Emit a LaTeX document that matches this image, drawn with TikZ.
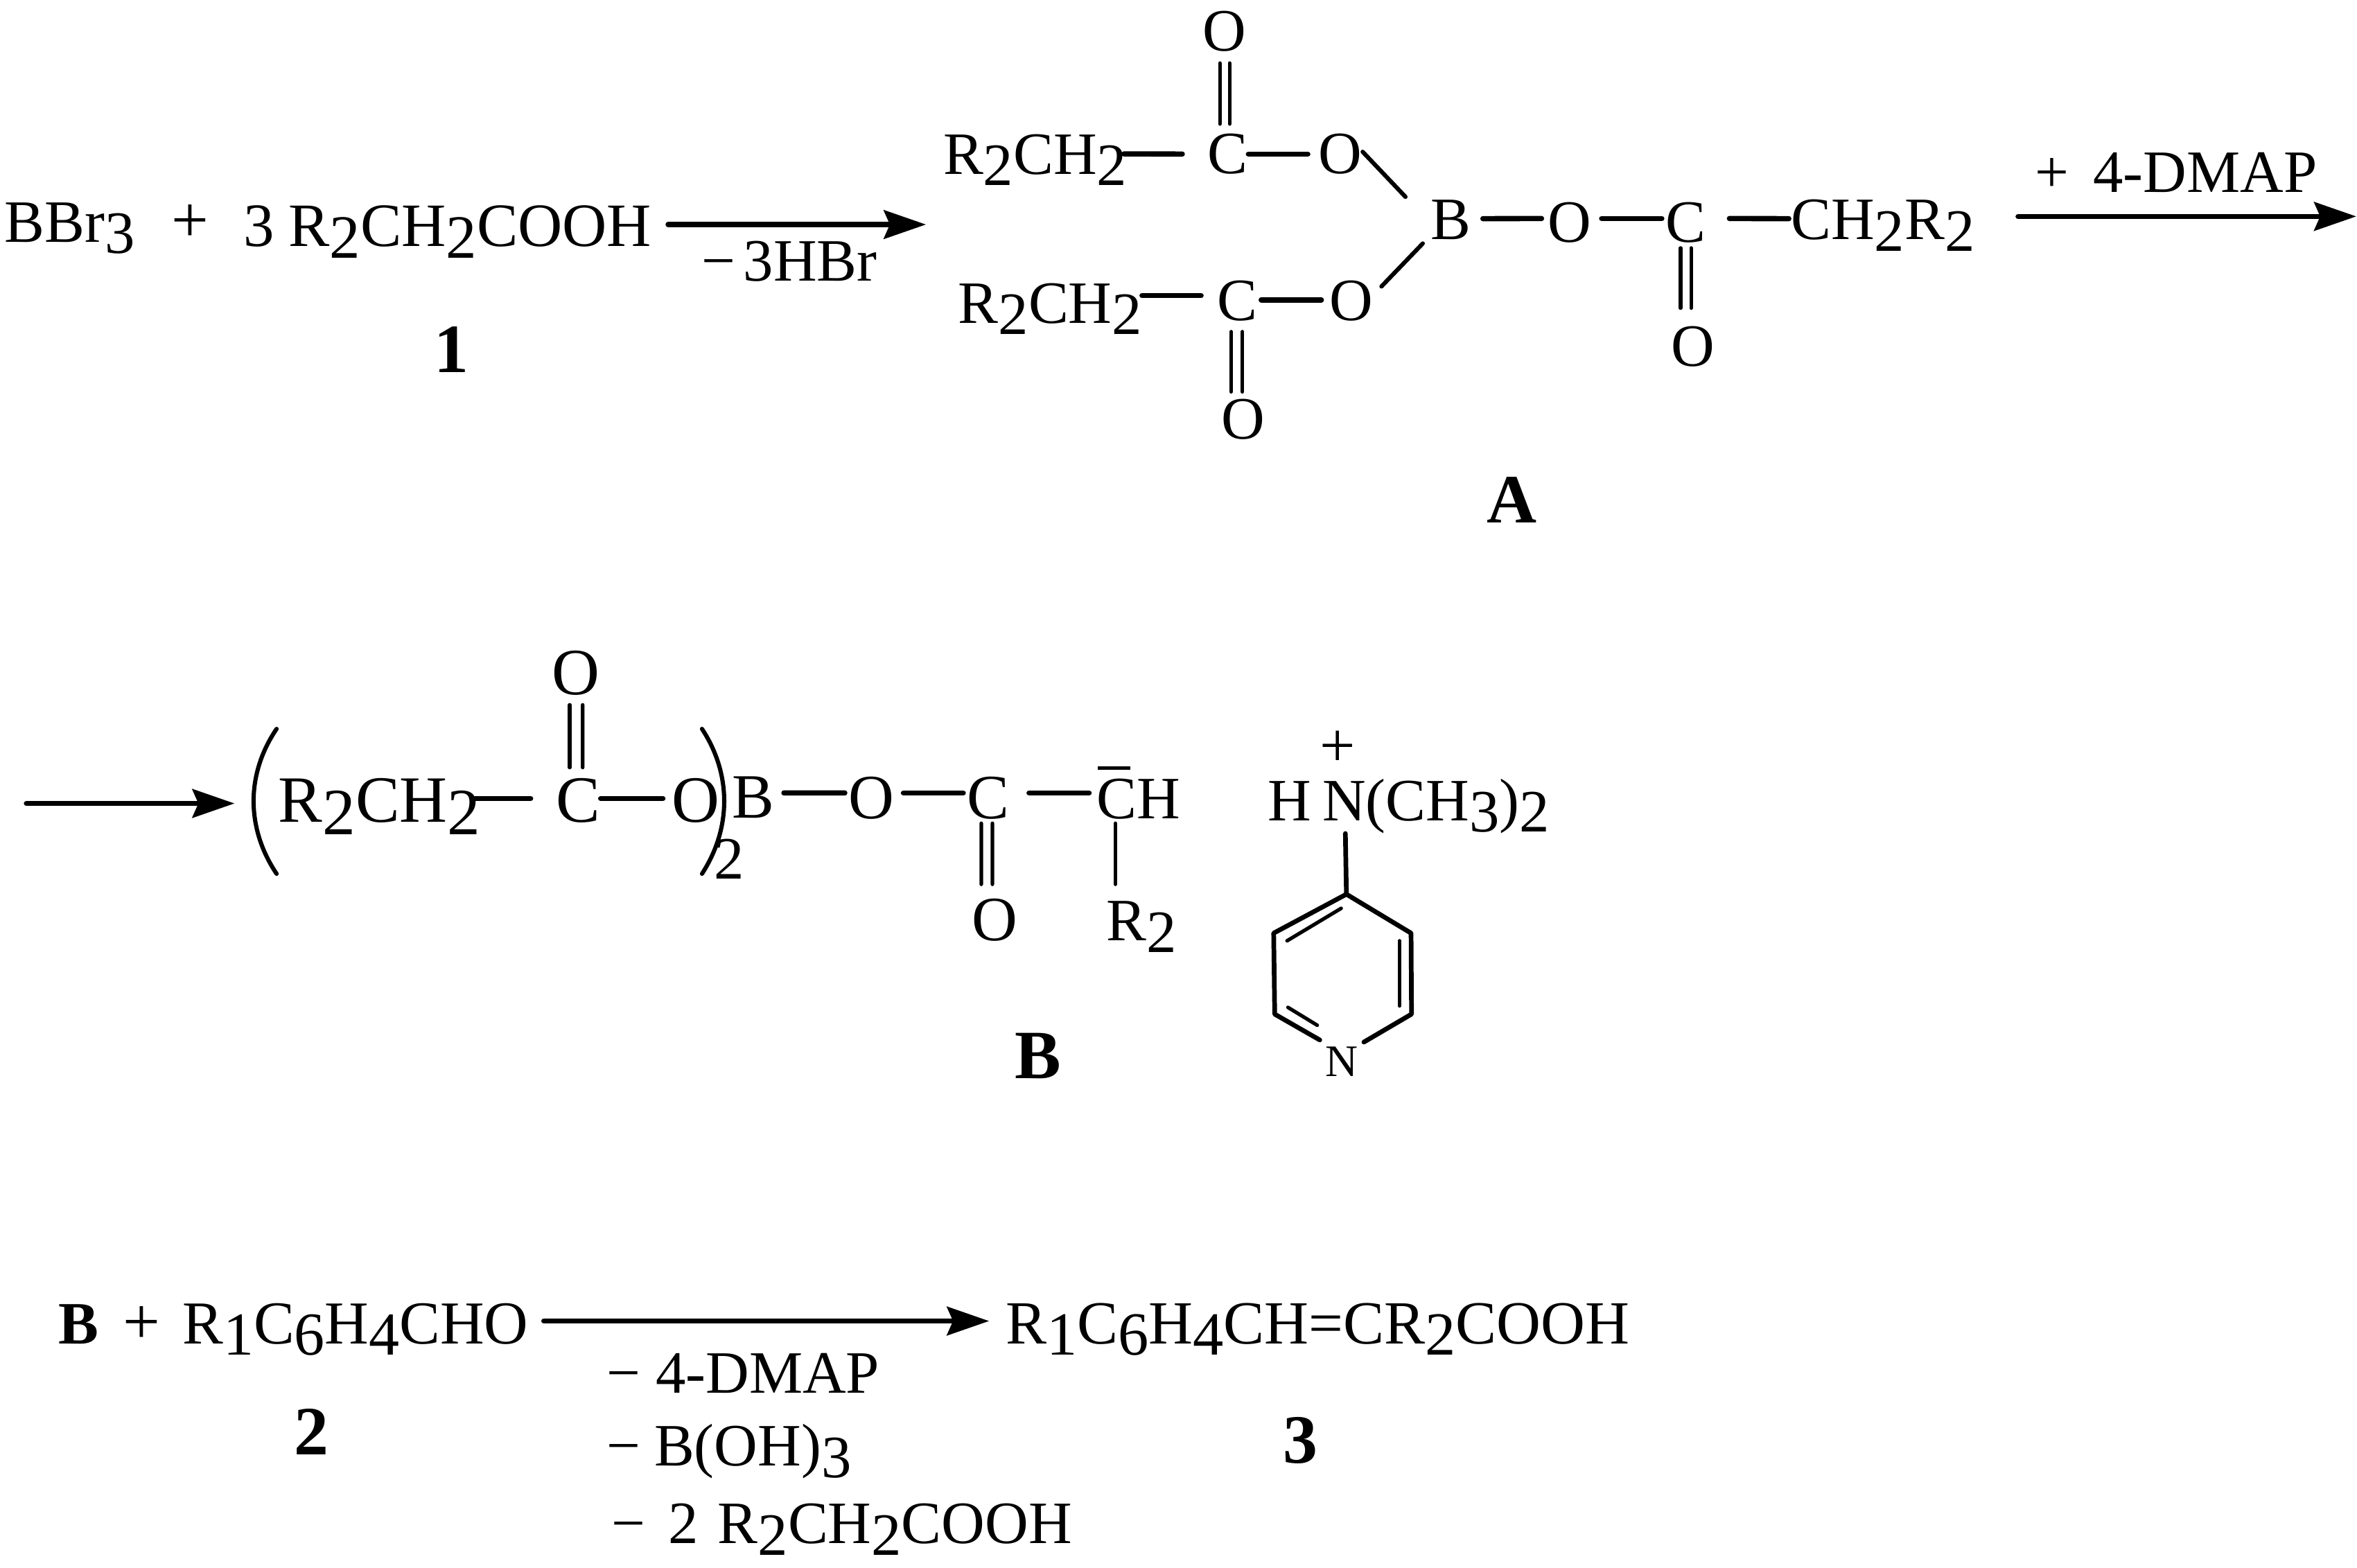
\documentclass[tikz,border=0pt]{standalone}
\usepackage{fontspec}
\setmainfont{Liberation Serif}
\usetikzlibrary{arrows.meta}
\newcommand{\sbb}[1]{\raisebox{-0.19em}{#1}}
\newcommand{\lk}[3]{([shift={(#2,#3)}]#1)}
\tikzset{
  fs/.style={font=\fontsize{#1}{#1}\selectfont},
  fsb/.style={font=\fontsize{#1}{#1}\selectfont\bfseries},
  atom/.style={anchor=base,inner sep=0pt,outer sep=0pt,fs=40},
  txt/.style={anchor=base west,inner sep=0pt,outer sep=0pt,fs=40},
  lbl/.style={anchor=base,inner sep=0pt,outer sep=0pt,fsb=46},
  bond/.style={line width=3.5pt,line cap=round},
  thinb/.style={line width=2.4pt,line cap=round},
  slant/.style={line width=2.8pt,line cap=round},
  ringb/.style={line width=3.1pt,line cap=round,line join=round},
  rxn/.style={line width=3.5pt,line cap=round,-{Stealth[length=28pt,width=19pt,inset=4pt]}}
}
\begin{document}
\begin{tikzpicture}[x=1pt,y=-1pt]
\useasboundingbox (0,0) rectangle (1568,1043.3);
% ---------- first row: reactants
\node[txt] (bbr) at (3,161) {BBr\sbb{3}};
\node[txt,fs=44] (plusa) at (114,161) {+};
\node[txt,fs=41] (three) at (162,164) {3};
\node[txt,fs=41] (acid) at (192,164) {R\sbb{2}CH\sbb{2}COOH};
\node[txt] (hbr) at (467,187) {−\kern5pt 3HBr};
\node[lbl] (one) at (300.5,248) {1};
\coordinate (arrAend) at (616,149.4);
\draw[rxn] \lk{acid.base east}{11}{-14.6} -- (arrAend);
% ---------- intermediate A
\node[txt] (Rt) at (627.5,115.8) {R\sbb{2}CH\sbb{2}};
\node[atom] (C1) at (816.5,115.5) {C};
\node[atom] (O1) at (891.5,115.5) {O};
\node[atom] (Ot) at (814.5,34) {O};
\node[txt] (Rl) at (637.5,215) {R\sbb{2}CH\sbb{2}};
\node[atom] (C2) at (823,213) {C};
\node[atom] (O2) at (899,213) {O};
\node[atom] (Ol) at (827,292) {O};
\node[atom] (BA) at (965,159.5) {B};
\node[atom] (O3) at (1044,161) {O};
\node[atom] (C3) at (1121.5,161) {C};
\node[txt] (CHR) at (1191.5,159.5) {CH\sbb{2}R\sbb{2}};
\node[atom] (O4) at (1126,243.5) {O};
\node[lbl] (labA) at (1005.7,348) {A};
\draw[bond] \lk{Rt.base east}{-2}{-13.4} -- \lk{C1.base}{-30}{-13};
\draw[bond] \lk{C1.base}{14}{-13} -- \lk{O1.base}{-21.5}{-13};
\draw[slant] \lk{O1.base}{15}{-14.5} -- \lk{BA.base}{-30}{-28.5};
\draw[bond] \lk{BA.base}{21.5}{-14} -- \lk{O3.base}{-18.5}{-15.6};
\draw[bond] \lk{O3.base}{21.5}{-15.6} -- \lk{C3.base}{-16}{-15.6};
\draw[bond] \lk{C3.base}{29}{-15.6} -- \lk{CHR.base west}{-1.5}{-14};
\draw[thinb] \lk{C3.base}{-3.5}{4} -- \lk{O4.base}{-8}{-38.5};
\draw[thinb] \lk{C3.base}{3.5}{4} -- \lk{O4.base}{-1}{-38.5};
\draw[thinb] \lk{Ot.base}{-3}{8} -- \lk{C1.base}{-5}{-33};
\draw[thinb] \lk{Ot.base}{3.5}{8} -- \lk{C1.base}{1.5}{-33};
\draw[bond] \lk{Rl.base east}{0}{-18.3} -- \lk{C2.base}{-24}{-16.3};
\draw[bond] \lk{C2.base}{16}{-13.5} -- \lk{O2.base}{-20}{-13.5};
\draw[slant] \lk{O2.base}{20}{-22.4} -- \lk{BA.base}{-18.5}{2.5};
\draw[thinb] \lk{C2.base}{-4}{7.7} -- \lk{Ol.base}{-8}{-31.3};
\draw[thinb] \lk{C2.base}{3.5}{7.7} -- \lk{Ol.base}{-0.5}{-31.3};
\node[txt] (dmapp) at (1354,128) {+\kern16pt 4-DMAP};
\coordinate (arrBend) at (1567.5,144);
\draw[rxn] \lk{CHR.base east}{28.8}{-15.5} -- (arrBend);
% ---------- second row: intermediate B
\coordinate (arrCstart) at (17.6,534.6);
\coordinate (arrCend) at (156,534.6);
\draw[rxn] (arrCstart) -- (arrCend);
\coordinate (plt) at (184,485);
\coordinate (plb) at (184,581.4);
\coordinate (prt) at (467,485);
\coordinate (prb) at (467,581.4);
\draw[slant] (plt) .. controls (163.6,515) and (163.6,551) .. (plb);
\draw[slant] (prt) .. controls (486.7,515) and (486.7,551) .. (prb);
\node[txt,fs=44] (R3) at (185.3,546.8) {R\sbb{2}CH\sbb{2}};
\node[atom,fs=44] (C4) at (384.7,546.8) {C};
\node[atom,fs=44] (O6) at (463,546.8) {O};
\node[atom,fs=44] (O7) at (383,462) {O};
\node[atom,fs=42] (B2) at (501,544.3) {B};
\node[atom] (two) at (485,585) {2};
\node[atom,fs=42] (O8) at (579.8,544.7) {O};
\node[atom,fs=42] (C5) at (657.4,544.7) {C};
\node[txt] (CH) at (729.8,544.7) {CH};
\node[atom,fs=42] (O9) at (661.6,626) {O};
\node[txt] (R4) at (736,626) {R\sbb{2}};
\node[lbl] (labB) at (690.4,717.7) {B};
\draw[bond] \lk{R3.base east}{-3.8}{-15.5} -- \lk{C4.base}{-31.7}{-15.5};
\draw[bond] \lk{C4.base}{14.9}{-15.5} -- \lk{O6.base}{-22}{-15.5};
\draw[thinb] \lk{O7.base}{-4}{7} -- \lk{C4.base}{-5.7}{-36.1};
\draw[thinb] \lk{O7.base}{4.6}{7} -- \lk{C4.base}{2.9}{-36.1};
\draw[bond] \lk{B2.base}{20.5}{-16.7} -- \lk{O8.base}{-17.8}{-17.1};
\draw[bond] \lk{O8.base}{21.2}{-17.1} -- \lk{C5.base}{-16.6}{-17.1};
\draw[bond] \lk{C5.base}{27.2}{-17.1} -- \lk{CH.base west}{-5.3}{-17.1};
\draw[thinb,line cap=butt] \lk{CH.base west}{0.7}{-33.7} -- \lk{CH.base west}{22.2}{-33.7};
\draw[thinb] \lk{CH.base west}{12.2}{3.1} -- \lk{R4.base west}{6}{-37.6};
\draw[thinb] \lk{C5.base}{-4.6}{3.1} -- \lk{O9.base}{-8.8}{-37.6};
\draw[thinb] \lk{C5.base}{2.8}{3.1} -- \lk{O9.base}{-1.4}{-37.6};
% ---------- DMAP cation
\node[txt] (HH) at (843.4,546) {H};
\node[txt] (NMe) at (879.8,546) {N(CH\sbb{3})\sbb{2}};
\node[atom,fs=42] (plusN) at (889.7,510) {+};
\node[atom,fs=30] (Npy) at (892.7,716) {N};
\coordinate (r1) at (895.7,595);
\coordinate (r2) at (938.7,620.9);
\coordinate (r3) at (939,674.8);
\coordinate (r6) at (848,674.8);
\coordinate (r7) at (847.3,620.9);
\coordinate (i1a) at (892.2,604.4);
\coordinate (i1b) at (856.2,626);
\coordinate (i2a) at (931,626);
\coordinate (i2b) at (931,669.3);
\coordinate (i3a) at (856.8,670.3);
\coordinate (i3b) at (876.3,682.2);
\draw[ringb] \lk{NMe.base west}{15.2}{8.6} -- (r1);
\draw[ringb] \lk{Npy.base}{14.6}{-22.6} -- (r3) -- (r2) -- (r1) -- (r7) -- (r6) -- \lk{Npy.base}{-14.7}{-24};
\draw[thinb] (i1a) -- (i1b);
\draw[thinb] (i2a) -- (i2b);
\draw[thinb] (i3a) -- (i3b);
% ---------- third row
\node[txt,fsb=40] (Bb) at (38.8,894) {B};
\node[txt,fs=44] (plusc) at (82,894) {+};
\node[txt,fs=40.6] (ald) at (121.4,894) {R\sbb{1}C\sbb{6}H\sbb{4}CHO};
\node[txt,fs=40.8] (prod) at (669,894) {R\sbb{1}C\sbb{6}H\sbb{4}CH=CR\sbb{2}COOH};
\node[lbl] (labtwo) at (207,968) {2};
\node[lbl] (labthree) at (865,973.5) {3};
\node[txt] (lossa) at (403.7,927) {−\kern10pt 4-DMAP};
\node[txt] (lossb) at (403.7,975.4) {−\kern9pt B(OH)\sbb{3}};
\node[txt] (lossc) at (407,1027) {−\kern15pt 2\kern13pt R\sbb{2}CH\sbb{2}COOH};
\draw[rxn] \lk{ald.base east}{10.3}{-15} -- \lk{prod.base west}{-11}{-15};
\end{tikzpicture}
\end{document}
